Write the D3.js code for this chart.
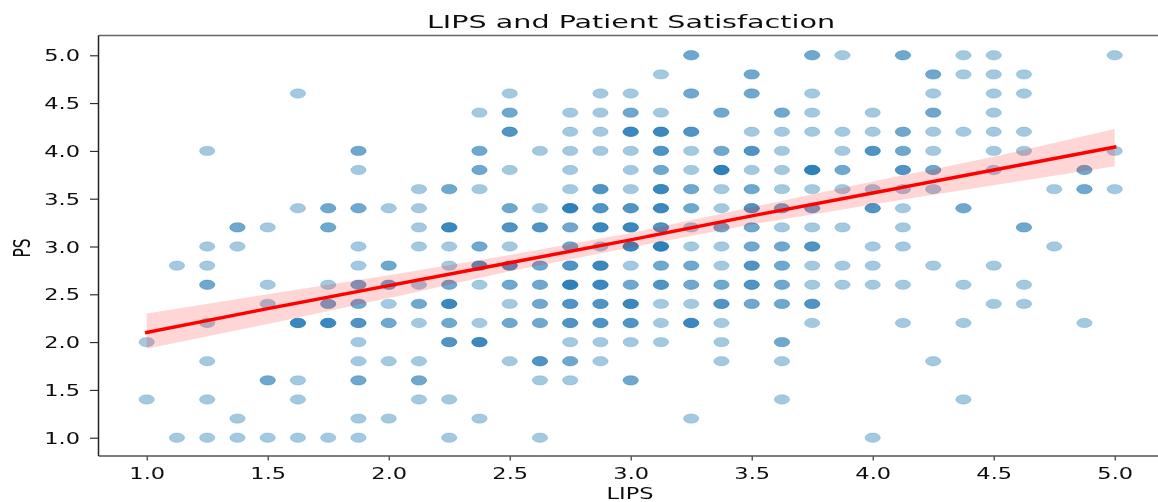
<!DOCTYPE html>
<html>
<head>
<meta charset="utf-8">
<title>LIPS and Patient Satisfaction</title>
<script src="https://cdn.jsdelivr.net/npm/d3@7"></script>
<style>
  html, body { margin: 0; padding: 0; background: #fff; }
  svg { display: block; }
  text { font-family: "DejaVu Sans", sans-serif; fill: #111; }
</style>
</head>
<body>
<svg width="1158" height="502"></svg>
<script>
// LIPS answers fall on 1/8 steps, PS answers on 0.2 steps
var lipsLevels = [1, 1.125, 1.25, 1.375, 1.5, 1.625, 1.75, 1.875, 2, 2.125, 2.25, 2.375, 2.5, 2.625, 2.75, 2.875,
    3, 3.125, 3.25, 3.375, 3.5, 3.625, 3.75, 3.875, 4, 4.125, 4.25, 4.375, 4.5, 4.625, 4.75, 4.875, 5];

// how many respondents sit on each LIPS level, one list per PS level (guessed from how dark the dot is)
var ps50 = [0,0,0,0,0,0,0,0,0,0, 0,0,0,0,0,0,0,0,2,0, 0,0,2,1,0,2,0,1,1,0, 0,0,1];
var ps48 = [0,0,0,0,0,0,0,0,0,0, 0,0,0,0,0,0,0,1,0,0, 2,0,0,0,0,0,2,1,1,1, 0,0,0];
var ps46 = [0,0,0,0,0,1,0,0,0,0, 0,0,1,0,0,1,1,0,2,0, 2,0,1,0,0,0,1,0,1,1, 0,0,0];
var ps44 = [0,0,0,0,0,0,0,0,0,0, 0,1,2,0,1,1,2,1,0,2, 0,2,1,0,1,0,2,0,1,0, 0,0,0];
var ps42 = [0,0,0,0,0,0,0,0,0,0, 0,0,3,0,1,1,4,4,3,0, 1,1,1,1,1,2,1,1,1,1, 0,0,0];
var ps40 = [0,0,1,0,0,0,0,2,0,0, 0,2,0,1,1,1,1,3,1,2, 3,1,0,1,3,2,1,0,1,1, 0,0,1];
var ps38 = [0,0,0,0,0,0,0,1,0,0, 0,2,1,0,1,0,1,2,1,5, 1,1,5,2,0,3,2,0,1,0, 0,2,0];
var ps36 = [0,0,0,0,0,0,0,0,0,1, 2,1,0,0,1,3,1,4,2,1, 2,1,1,1,1,1,1,0,0,0, 1,2,1];
var ps34 = [0,0,0,0,0,1,2,2,1,1, 0,0,2,1,5,3,3,4,2,1, 3,2,2,0,3,1,0,2,0,0, 0,0,0];
var ps32 = [0,0,0,2,1,0,2,0,0,1, 4,0,3,3,2,4,4,3,1,2, 2,1,1,1,0,1,0,0,0,2, 0,0,0];
var ps30 = [0,0,1,1,0,0,0,1,0,1, 1,2,1,0,2,1,4,5,1,1, 2,2,3,0,1,1,0,0,0,0, 1,0,0];
var ps28 = [0,1,1,0,0,0,0,1,2,0, 1,3,3,2,3,4,1,2,2,1, 3,2,1,1,1,0,1,0,1,0, 0,0,0];
var ps26 = [0,0,2,0,1,0,1,2,2,1, 2,1,2,2,5,4,2,3,2,2, 3,2,1,1,1,1,0,1,0,1, 0,0,0];
var ps24 = [0,0,0,0,1,0,2,2,1,2, 4,0,1,2,3,3,4,1,1,3, 2,2,3,0,0,0,0,0,1,1, 0,0,0];
var ps22 = [0,0,1,0,0,4,4,3,2,1, 2,1,2,2,3,3,3,1,4,1, 0,0,1,0,0,1,0,1,0,0, 0,1,0];
var ps20 = [1,0,0,0,0,0,0,1,0,0, 3,4,0,0,1,1,1,1,0,1, 0,2,0,0,0,0,0,0,0,0, 0,0,0];
var ps18 = [0,0,1,0,0,0,0,1,1,1, 0,0,1,3,2,1,0,0,0,1, 0,1,0,0,0,0,1,0,0,0, 0,0,0];
var ps16 = [0,0,0,0,2,1,0,2,0,2, 0,0,0,1,1,0,2,0,0,0, 0,0,0,0,0,0,0,0,0,0, 0,0,0];
var ps14 = [1,0,1,0,0,1,0,0,0,1, 1,0,0,0,0,0,0,0,0,0, 0,1,0,0,0,0,0,1,0,0, 0,0,0];
var ps12 = [0,0,0,1,0,0,0,1,1,0, 0,1,0,0,0,0,0,0,1,0, 0,0,0,0,0,0,0,0,0,0, 0,0,0];
var ps10 = [0,1,1,1,1,1,1,1,0,0, 1,0,0,1,0,0,0,0,0,0, 0,0,0,0,1,0,0,0,0,0, 0,0,0];

var psLevels = [5, 4.8, 4.6, 4.4, 4.2, 4, 3.8, 3.6, 3.4, 3.2, 3, 2.8, 2.6, 2.4, 2.2, 2, 1.8, 1.6, 1.4, 1.2, 1];
var psRows = [ps50, ps48, ps46, ps44, ps42, ps40, ps38, ps36, ps34, ps32, ps30, ps28, ps26, ps24, ps22, ps20, ps18, ps16, ps14, ps12, ps10];

// regression fit and its confidence band
var fitLips  = [1, 1.5, 2, 2.5, 3, 3.5, 4, 4.5, 5];
var fitPs    = [2.10, 2.35, 2.59, 2.83, 3.07, 3.32, 3.56, 3.80, 4.04];
var fitUpper = [2.30, 2.50, 2.70, 2.91, 3.14, 3.41, 3.68, 3.94, 4.23];
var fitLower = [1.93, 2.19, 2.46, 2.74, 2.99, 3.23, 3.44, 3.64, 3.84];

var xTicks = [1, 1.5, 2, 2.5, 3, 3.5, 4, 4.5, 5];
var yTicks = [1, 1.5, 2, 2.5, 3, 3.5, 4, 4.5, 5];

var plotLeft = 98.5, plotRight = 1158, plotTop = 35.5, plotBottom = 456;
// the picture is stretched sideways, text and dots with it
var stretch = 1.5;

var svg = d3.select("svg");

var defs = svg.append("defs");
defs.append("filter").attr("id", "soft")
    .attr("filterUnits", "userSpaceOnUse")
    .attr("x", 0).attr("y", 0).attr("width", 1158).attr("height", 502)
    .append("feGaussianBlur").attr("stdDeviation", 0.55);

var g = svg.append("g").attr("filter", "url(#soft)");

var xScale = d3.scaleLinear().domain([1, 5]).range([146.7, 1114.7]);
var yScale = d3.scaleLinear().domain([1, 5]).range([437.7, 55.3]);

var points = [];
psRows.forEach(function(row, r) {
    row.forEach(function(n, c) {
        for (var k = 0; k < n; k++) points.push({ lips: lipsLevels[c], ps: psLevels[r] });
    });
});

g.selectAll(".dot")
    .data(points)
    .enter().append("ellipse")
    .attr("class", "dot")
    .attr("cx", function(d) { return xScale(d.lips); })
    .attr("cy", function(d) { return yScale(d.ps); })
    .attr("rx", 7.7)
    .attr("ry", 4.7)
    .attr("fill", "#1f77b4")
    .attr("fill-opacity", 0.4)
    .attr("stroke", "#1f77b4")
    .attr("stroke-opacity", 0.2)
    .attr("stroke-width", 1);

var band = d3.area()
    .x(function(d, i) { return xScale(fitLips[i]); })
    .y0(function(d, i) { return yScale(fitLower[i]); })
    .y1(function(d, i) { return yScale(fitUpper[i]); });

g.append("path")
    .attr("d", band(fitLips))
    .attr("fill", "#ff0000")
    .attr("fill-opacity", 0.16);

var line = d3.line()
    .x(function(d, i) { return xScale(fitLips[i]); })
    .y(function(d, i) { return yScale(fitPs[i]); });

g.append("path")
    .attr("d", line(fitLips))
    .attr("fill", "none")
    .attr("stroke", "#ff0000")
    .attr("stroke-width", 3.4)
    .attr("stroke-linecap", "square");

// axes
var xAxis = g.append("g")
    .attr("transform", "translate(0," + plotBottom + ")")
    .call(d3.axisBottom(xScale).tickValues(xTicks).tickFormat(d3.format(".1f")).tickSize(4.5).tickSizeOuter(0));
xAxis.select(".domain").remove();
xAxis.selectAll("line").attr("stroke", "#222").attr("stroke-width", 1.1);
xAxis.selectAll("text")
    .attr("y", 0)
    .attr("dy", 0)
    .attr("font-size", 15)
    .attr("transform", "translate(0,23) scale(" + stretch + ",1)");

var yAxis = g.append("g")
    .attr("transform", "translate(" + plotLeft + ",0)")
    .call(d3.axisLeft(yScale).tickValues(yTicks).tickFormat(d3.format(".1f")).tickSize(8.5).tickSizeOuter(0));
yAxis.select(".domain").remove();
yAxis.selectAll("line").attr("stroke", "#222").attr("stroke-width", 1.1);
yAxis.selectAll("text")
    .attr("x", 0)
    .attr("dy", 0)
    .attr("font-size", 15)
    .attr("transform", "translate(-18.5,5.5) scale(" + stretch + ",1)");

// spines
g.append("line").attr("x1", plotLeft).attr("x2", plotRight).attr("y1", plotTop).attr("y2", plotTop)
    .attr("stroke", "#666").attr("stroke-width", 1.5);
g.append("line").attr("x1", plotLeft).attr("x2", plotRight).attr("y1", plotBottom).attr("y2", plotBottom)
    .attr("stroke", "#555").attr("stroke-width", 1.5);
g.append("line").attr("x1", plotLeft).attr("x2", plotLeft).attr("y1", plotTop).attr("y2", plotBottom)
    .attr("stroke", "#222").attr("stroke-width", 1.5);

g.append("text")
    .attr("text-anchor", "middle")
    .attr("font-size", 17.5)
    .attr("transform", "translate(631,27.5) scale(1.635,1)")
    .text("LIPS and Patient Satisfaction");

g.append("text")
    .attr("text-anchor", "middle")
    .attr("font-size", 15)
    .attr("transform", "translate(630,498.5) scale(" + stretch + ",1)")
    .text("LIPS");

g.append("text")
    .attr("text-anchor", "middle")
    .attr("font-size", 15.5)
    .attr("transform", "translate(30,248) scale(" + stretch + ",1) rotate(-90)")
    .text("PS");
</script>
</body>
</html>
